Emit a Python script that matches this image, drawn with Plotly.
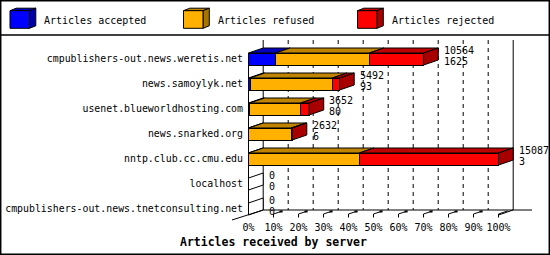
import plotly.graph_objects as go

# ---------------- data ----------------
servers = [
    "cmpublishers-out.news.weretis.net",
    "news.samoylyk.net",
    "usenet.blueworldhosting.com",
    "news.snarked.org",
    "nntp.club.cc.cmu.edu",
    "localhost",
    "cmpublishers-out.news.tnetconsulting.net",
]
accepted = [1625, 93, 80, 6, 3, 0, 0]
refused = [5664, 4964, 3070, 2566, 6683, 0, 0]
rejected = [3275, 435, 502, 60, 8401, 0, 0]
totals = [10564, 5492, 3652, 2632, 15087, 0, 0]
series_names = ["Articles accepted", "Articles refused", "Articles rejected"]
pct_ticks = [0, 10, 20, 30, 40, 50, 60, 70, 80, 90, 100]
pct_labels = [f"{t}%" for t in pct_ticks]
axis_title = "Articles received by server"

# ---------------- style ----------------
W, H = 550, 255
L, R, T, B = 248, 0, 36, 35
PW, PH = W - L - R, H - T - B
XR = [-0.2, -0.2 + PW / 2.5]
YR = [-0.92 + PH / 25.0, -0.92]
DX, DY = 5.88, -0.2          # depth offset in data units
BW = 0.48                    # bar thickness
FONT = "DejaVu Sans Mono"
front_cols = ["#0000ff", "#ffb000", "#ff0000"]


def shade(hexc, f):
    r, g, b = int(hexc[1:3], 16), int(hexc[3:5], 16), int(hexc[5:7], 16)
    return "rgb(%d,%d,%d)" % (r * f, g * f, b * f)


top_cols = [shade(c, 0.75) for c in front_cols]
side_cols = [shade(c, 0.66) for c in front_cols]


def pxx(p):
    return (p - L) / PW


def pxy(p):
    return 1 - (p - T) / PH


vmax = max(totals)
series = [accepted, refused, rejected]
pcts = [[v / vmax * 100 for v in s] for s in series]
idx = list(range(len(servers)))

fig = go.Figure()

# front faces
for k in range(3):
    fig.add_trace(go.Bar(
        orientation="h", x=pcts[k], y=idx, width=BW,
        marker=dict(color=front_cols[k], line=dict(color="black", width=1)),
        name=series_names[k], showlegend=False, hoverinfo="skip"))

# top faces
for k in range(3):
    xs, ys = [], []
    for i in idx:
        x0 = sum(pcts[j][i] for j in range(k))
        x1 = x0 + pcts[k][i]
        if pcts[k][i] <= 0:
            continue
        yt = i - BW / 2
        xs += [x0, x1, x1 + DX, x0 + DX, x0, None]
        ys += [yt, yt, yt + DY, yt + DY, yt, None]
    fig.add_trace(go.Scatter(x=xs, y=ys, mode="lines", fill="toself",
                             fillcolor=top_cols[k], line=dict(color="black", width=1),
                             showlegend=False, hoverinfo="skip"))

# side faces
side_groups = {}
for i in idx:
    last = None
    for k in range(3):
        if pcts[k][i] > 0:
            last = k
    xe = totals[i] / vmax * 100
    yt, yb = i - BW / 2, i + BW / 2
    key = last if last is not None else -1
    xs, ys = side_groups.setdefault(key, ([], []))
    xs += [xe, xe + DX, xe + DX, xe, xe, None]
    ys += [yt, yt + DY, yb + DY, yb, yt, None]
for key, (xs, ys) in side_groups.items():
    fig.add_trace(go.Scatter(x=xs, y=ys, mode="lines", fill="toself",
                             fillcolor=side_cols[key] if key >= 0 else "white",
                             line=dict(color="black", width=1),
                             showlegend=False, hoverinfo="skip"))

shapes = []
ytop_back, ybot_back = -0.76, 6.04
ybot_front = 6.24
# back walls / grid
for t in pct_ticks:
    if t == 0 or t == 100:
        shapes.append(dict(type="line", xref="x", yref="y", x0=t + DX, x1=t + DX,
                           y0=ytop_back, y1=ybot_back, line=dict(color="black", width=1),
                           layer="below"))
    else:
        shapes.append(dict(type="line", xref="x", yref="y", x0=t + DX, x1=t + DX,
                           y0=ytop_back, y1=ybot_back,
                           line=dict(color="black", width=1, dash="4px,4px"), layer="below"))
# front left axis line
shapes.append(dict(type="line", xref="x", yref="y", x0=0, x1=0, y0=-0.24, y1=ybot_front,
                   line=dict(color="black", width=1), layer="below"))
# floor back line
shapes.append(dict(type="line", xref="x", yref="y", x0=DX, x1=113.4, y0=ybot_back, y1=ybot_back,
                   line=dict(color="black", width=1), layer="below"))
# floor right diagonal
shapes.append(dict(type="line", xref="x", yref="y", x0=100, x1=100 + DX, y0=ybot_front, y1=ybot_back,
                   line=dict(color="black", width=1), layer="below"))
# floor left diagonal (extends past the front corner)
shapes.append(dict(type="line", xref="paper", yref="paper",
                   x0=pxx(232), y0=pxy(220), x1=pxx(248.5 + 14.7), y1=pxy(210),
                   line=dict(color="black", width=1)))
# ticks on the floor
for t in pct_ticks[1:]:
    shapes.append(dict(type="path", xref="x", yref="y",
                       path=f"M {t},6.34 L {t},6.2 L {t+3.6},6.08",
                       line=dict(color="black", width=1)))
    if t < 100:
        shapes.append(dict(type="rect", xref="x", yref="y", x0=t + 2.4, x1=t + 3.6,
                           y0=6.06, y1=6.14, fillcolor="black", line=dict(width=0)))

# legend separator and outer frame
shapes.append(dict(type="line", xref="paper", yref="paper", x0=pxx(0), x1=pxx(W),
                   y0=pxy(35), y1=pxy(35), line=dict(color="black", width=1.5)))
shapes.append(dict(type="rect", xref="paper", yref="paper", x0=pxx(0.7), x1=pxx(W - 0.7),
                   y0=pxy(0.7), y1=pxy(H - 0.7), line=dict(color="black", width=1.5)))

annotations = []
# legend cubes
leg_x = [10, 183.5, 357.5]
leg_tx = [42, 216, 390]
for k in range(3):
    x0, x1, y0, y1 = leg_x[k], leg_x[k] + 19.5, 10.7, 28.3
    ddx, ddy = 6.3, -2.5
    shapes.append(dict(type="path", xref="paper", yref="paper",
                       path=f"M {pxx(x0)},{pxy(y0)} L {pxx(x0+ddx)},{pxy(y0+ddy)} L {pxx(x1+ddx)},{pxy(y0+ddy)} L {pxx(x1)},{pxy(y0)} Z",
                       fillcolor=top_cols[k], line=dict(color="black", width=1)))
    shapes.append(dict(type="path", xref="paper", yref="paper",
                       path=f"M {pxx(x1)},{pxy(y0)} L {pxx(x1+ddx)},{pxy(y0+ddy)} L {pxx(x1+ddx)},{pxy(y1+ddy)} L {pxx(x1)},{pxy(y1)} Z",
                       fillcolor=side_cols[k], line=dict(color="black", width=1)))
    shapes.append(dict(type="rect", xref="paper", yref="paper",
                       x0=pxx(x0), x1=pxx(x1), y0=pxy(y0), y1=pxy(y1),
                       fillcolor=front_cols[k], line=dict(color="black", width=1)))
    annotations.append(dict(xref="paper", yref="paper", x=pxx(leg_tx[k]), y=pxy(20),
                            xanchor="left", yanchor="middle", showarrow=False,
                            text=series_names[k], font=dict(family=FONT, size=10, color="black")))

# value labels
for i in idx:
    xl = totals[i] / vmax * 100 + DX + 1.5
    annotations.append(dict(xref="x", yref="y", x=xl, y=i - 0.36, xanchor="left", yanchor="middle",
                            showarrow=False, text=str(totals[i]),
                            font=dict(family=FONT, size=10, color="black")))
    annotations.append(dict(xref="x", yref="y", x=xl, y=i + 0.08, xanchor="left", yanchor="middle",
                            showarrow=False, text=str(accepted[i]),
                            font=dict(family=FONT, size=10, color="black")))

# axis title
annotations.append(dict(xref="paper", yref="paper", x=pxx(273.5), y=pxy(241.5),
                        xanchor="center", yanchor="middle", showarrow=False,
                        text="<b>" + axis_title + "</b>",
                        font=dict(family=FONT, size=11.5, color="black")))

fig.update_layout(
    width=W, height=H, margin=dict(l=L, r=R, t=T, b=B, pad=0),
    paper_bgcolor="white", plot_bgcolor="white",
    barmode="stack", showlegend=False,
    shapes=shapes, annotations=annotations,
    xaxis=dict(range=XR, tickvals=pct_ticks, ticktext=pct_labels, showgrid=False,
               zeroline=False, showline=False, ticks="",
               tickfont=dict(family=FONT, size=10, color="black")),
    yaxis=dict(range=YR, tickvals=idx, ticktext=servers, showgrid=False,
               zeroline=False, showline=False, ticks="", ticklabelstandoff=4,
               tickfont=dict(family=FONT, size=9.9, color="black")),
)

fig.write_html("out.html")
